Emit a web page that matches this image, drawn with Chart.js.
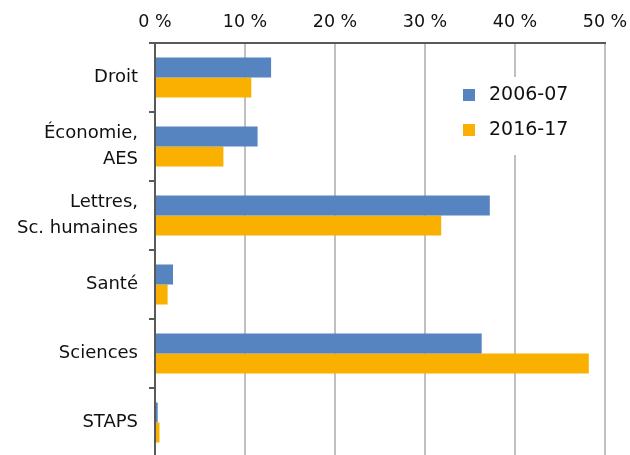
<!DOCTYPE html>
<html>
<head>
<meta charset="utf-8">
<script src="https://cdn.jsdelivr.net/npm/chart.js@4"></script>
<style>
  html, body { margin: 0; padding: 0; background: #fff; }
  #wrap { width: 630px; height: 455px; overflow: hidden; }
</style>
</head>
<body>
<div id="wrap"><canvas id="chart" width="630" height="460"></canvas></div>
<script>
// Share of students per field, two academic years
const categories = ['Droit', ['Économie,', 'AES'], ['Lettres,', 'Sc. humaines'], 'Santé', 'Sciences', 'STAPS'];
const seriesLabels = ['2006-07', '2016-17'];
const values2006 = [12.9, 11.4, 37.2, 2.0, 36.3, 0.3];
const values2016 = [10.7, 7.6, 31.8, 1.4, 48.2, 0.5];
const xTicks = [0, 10, 20, 30, 40, 50];

const blue = '#5584C0';
const orange = '#F9B000';
const axisGrey = '#595959';
const gridGrey = '#C0C0C0';
const fontFamily = '"DejaVu Sans", sans-serif';

// legend box drawn inside the plot, over the gridlines
const boxLegend = {
    id: 'boxLegend',
    afterDraw(chart) {
        const ctx = chart.ctx;
        ctx.save();
        ctx.fillStyle = '#fff';
        ctx.fillRect(455, 77, 145, 78);
        ctx.font = '19px ' + fontFamily;
        ctx.textBaseline = 'middle';
        ctx.textAlign = 'left';
        chart.data.datasets.forEach((ds, i) => {
            const y = 95 + i * 35;
            ctx.fillStyle = ds.backgroundColor;
            ctx.fillRect(463, y - 6, 12, 12);
            ctx.fillStyle = '#111';
            ctx.fillText(ds.label, 489, y);
        });
        ctx.restore();
    }
};

new Chart(document.getElementById('chart'), {
    type: 'bar',
    data: {
        labels: categories,
        datasets: [
            { label: seriesLabels[0], data: values2006, backgroundColor: blue },
            { label: seriesLabels[1], data: values2016, backgroundColor: orange }
        ]
    },
    options: {
        indexAxis: 'y',
        responsive: false,
        animation: false,
        devicePixelRatio: 1,
        layout: { padding: { left: 0, right: 25, top: 0, bottom: 3 } },
        datasets: { bar: { categoryPercentage: 0.58, barPercentage: 1.0 } },
        plugins: { legend: { display: false }, tooltip: { enabled: false } },
        scales: {
            x: {
                position: 'top',
                min: xTicks[0],
                max: xTicks[xTicks.length - 1],
                afterBuildTicks: s => { s.ticks = xTicks.map(v => ({ value: v })); },
                afterFit: s => {
                    s.height = 43;
                    s.paddingLeft = 0;
                    s.paddingRight = 0;
                },
                ticks: {
                    callback: v => v + ' %',
                    font: { family: fontFamily, size: 17.5 },
                    color: '#111',
                    padding: 10,
                    maxRotation: 0
                },
                grid: { color: gridGrey, lineWidth: 2, drawTicks: false },
                border: { color: axisGrey, width: 2 }
            },
            y: {
                afterFit: s => {
                    s.width = 155;
                    s.paddingTop = 0;
                    s.paddingBottom = 0;
                },
                ticks: {
                    font: { family: fontFamily, size: 18, lineHeight: 1.45 },
                    color: '#111',
                    padding: 11
                },
                grid: { drawOnChartArea: false, tickLength: 6, color: axisGrey, lineWidth: 2, offset: true },
                border: { color: axisGrey, width: 2 }
            }
        }
    },
    plugins: [boxLegend]
});
</script>
</body>
</html>
